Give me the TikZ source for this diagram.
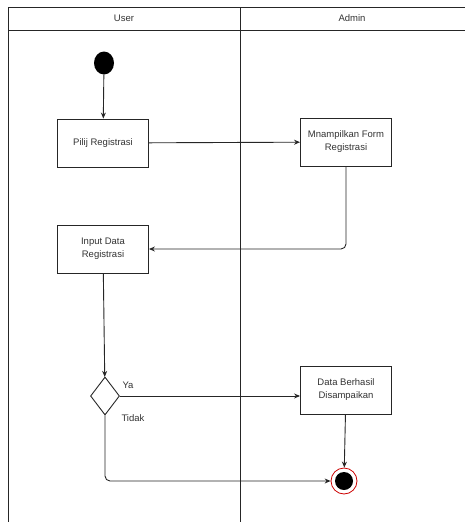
\documentclass[tikz,border=0pt]{standalone}
\usepackage{fontspec}
\setmainfont{Liberation Sans}
\usetikzlibrary{positioning,arrows.meta,shapes.geometric}

\begin{document}
\begin{tikzpicture}[
  x=1pt, y=-1pt,
  font=\fontsize{9.5}{13}\selectfont,
  >={Stealth[length=6pt, width=5pt]},
  lane/.style={draw=black!85, line width=0.9pt},
  act/.style={draw=black!85, line width=0.9pt, align=center, inner sep=2pt,
              minimum width=91pt, minimum height=48pt, text=black!80},
  initial/.style={ellipse, fill=black, inner sep=0pt, minimum width=20pt, minimum height=23pt},
  final/.style={circle, draw=red!80!black, line width=0.8pt, fill=white, inner sep=0pt, minimum size=26pt,
                path picture={\fill[black] (path picture bounding box.center) circle (9);}},
  dec/.style={diamond, draw=black!85, line width=0.9pt, inner sep=0pt, minimum width=29pt, minimum height=38pt},
  flow/.style={->, line width=0.9pt, draw=black!85},
  lbl/.style={font=\fontsize{9.5}{11}\selectfont, text=black!80},
]
\useasboundingbox (0,0) rectangle (465,522);
% ---- swimlanes ----
\draw[lane] (465,7) -- (8,7) -- (8,522);
\draw[lane] (8,30) -- (465,30);
\draw[lane] (240,7) -- (240,522);
\node[lbl] (user)  at (124,18) {User};
\node[lbl] (admin) at (352,18) {Admin};

% ---- user lane ----
\node[initial] (start) at (104,63) {};
\node[act] (pilih) at (103,143) {Pilij Registrasi};
\node[act] (input) at (103,249) {Input Data\\Registrasi};
\node[dec] (cek) at (105,396) {};

% ---- admin lane ----
\node[act] (tampil)   at (346,142) {Mnampilkan Form\\Registrasi};
\node[act] (berhasil) at (346,390) {Data Berhasil\\Disampaikan};
\node[final] (stop) at (344,481) {};

% ---- flows ----
\draw[flow] (start) -- (pilih);
\draw[flow] (pilih) -- (tampil);
\draw[flow, rounded corners=5pt] (tampil.south) |- (input.east);
\draw[flow] (input) -- (cek);
\draw[flow] (cek.east) -- (cek.east -| berhasil.west);
\draw[flow] (berhasil) -- (stop);
\draw[flow, rounded corners=5pt] (cek.south) |- (stop.west);
\node[lbl, anchor=west] (ya)    at (119,385) {Ya};
\node[lbl, anchor=west] (tidak) at (118,418) {Tidak};
\end{tikzpicture}
\end{document}
